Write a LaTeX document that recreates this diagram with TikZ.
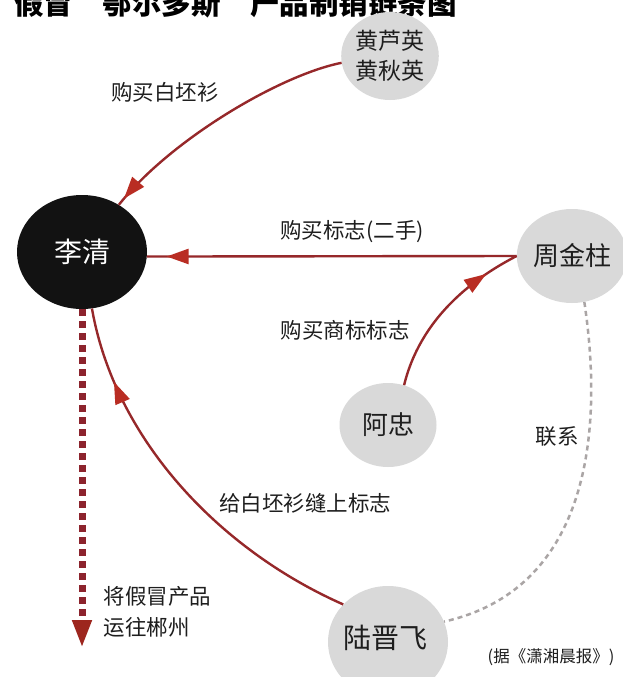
\documentclass[tikz,border=0pt]{standalone}
\usepackage{fontspec}
\setmainfont{Noto Sans CJK SC}
\usetikzlibrary{shapes.geometric,arrows.meta,decorations.markings}
\definecolor{lred}{RGB}{150,40,42}
\definecolor{ared}{RGB}{185,45,35}
\definecolor{dred}{RGB}{140,35,45}
\definecolor{cgrey}{RGB}{217,217,217}
\definecolor{dgrey}{RGB}{170,165,165}
\definecolor{ctext}{RGB}{30,30,30}
\tikzset{
  conn/.style={draw=lred, line width=2.4pt},
  midarrow/.style={postaction={decorate, decoration={markings,
     mark=at position #1 with {\arrow{Triangle[length=22pt,width=15pt,color=ared]}}}}},
  greynode/.style={ellipse, fill=cgrey, inner sep=0pt},
  lab/.style={font=\fontsize{21.5}{24}\selectfont, text=ctext},
  nodetext/.style={font=\fontsize{26}{30}\selectfont, text=ctext, align=center},
}
\begin{document}
\begin{tikzpicture}[x=1pt,y=-1pt]
\useasboundingbox (0,0) rectangle (622,677);
\fill[white] (0,0) rectangle (622,677);

% title (cut off at top)
\node[anchor=base west, inner sep=0pt, font=\bfseries\fontsize{29.5}{34}\selectfont, text=black] (title) at (14,15) {假冒“鄂尔多斯”产品制销链条图};

% nodes
\node[ellipse, fill=black!93, minimum width=130pt, minimum height=114pt, inner sep=0pt,
      text=white, font=\fontsize{28}{30}\selectfont] (li) at (82,252) {李清};
\node[greynode, minimum width=95pt, minimum height=88pt, nodetext, font=\fontsize{23}{30}\selectfont] (hy) at (390,56) {黄芦英\\黄秋英};
\node[greynode, minimum width=96pt, minimum height=94pt, nodetext] (zh) at (572,256) {周金柱};
\node[greynode, minimum width=97pt, minimum height=84pt, nodetext] (az) at (388,425) {阿忠};
\node[greynode, minimum width=120pt, minimum height=112pt, nodetext, font=\fontsize{28}{30}\selectfont] (lu) at (388,642) {};
\node[nodetext, font=\fontsize{28}{30}\selectfont] (lut) at (385,638) {陆晋飞};

% connectors
\draw[conn, midarrow=0.97] (hy.188) .. controls (280,75) and (170,140) .. (li.52);
\draw[conn, midarrow=0.947] (zh.west) -- (li.356);
\draw[conn, midarrow=0.8] (az.68) .. controls (420,320) and (470,280) .. (zh.west);
\draw[conn, midarrow=0.81] (lu.140) .. controls (220,550) and (115,440) .. (li.280);
\draw[draw=dgrey, line width=2.5pt, dash pattern=on 5pt off 4pt]
  (zh.285) .. controls (605,440) and (585,590) .. (lu.20);
\coordinate (ship) at (82,648);
\draw[draw=dred, line width=7pt, dash pattern=on 7pt off 5pt, -{Triangle[length=28pt,width=18pt,color=ared!85!black]}]
  (li.south) -- (ship);

% labels
\node[lab] (l1) at (165,92) {购买白坯衫};
\node[lab] (l2) at (352,232) {购买标志(二手)};
\node[lab] (l3) at (345,330) {购买商标标志};
\node[lab] (l4) at (305,503) {给白坯衫缝上标志};
\node[lab] (l5) at (557,436) {联系};
\node[lab, anchor=west, align=left, font=\fontsize{21.5}{31}\selectfont] (l6) at (100,612) {将假冒产品\\运往郴州};
\node[font=\fontsize{16.5}{18}\selectfont, text=ctext] (src) at (551,657) {(据《潇湘晨报》)};
\end{tikzpicture}
\end{document}
